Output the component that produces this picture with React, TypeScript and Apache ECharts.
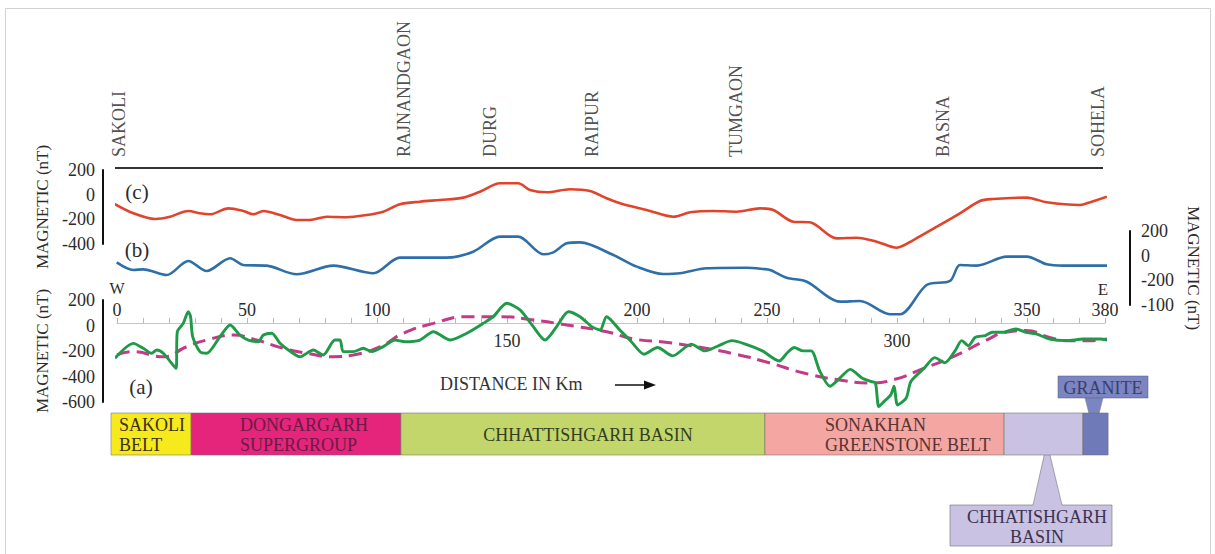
import React, { useEffect, useRef } from 'react';
import * as echarts from 'echarts';

// ---------------- DATA ----------------
const TOWNS = ['SAKOLI', 'RAJNANDGAON', 'DURG', 'RAIPUR', 'TUMGAON', 'BASNA', 'SOHELA'];
const TOWN_KM = [0.6, 110.4, 143.5, 182.7, 238, 317.7, 377.3];

// (c) upper profile, nT vs km
const PROFILE_C: [number, number][] = [
  [-1.4, -70], [6.3, -151], [14.6, -197], [20.4, -179], [27.4, -132], [31.9, -151], [35.8, -159],
  [42.8, -111], [48.6, -132], [52.4, -159], [56.3, -132], [62.7, -165], [69.1, -205], [74.2, -205],
  [80.7, -179], [88.3, -183], [96, -165], [102.4, -138], [108.8, -78], [116.5, -57], [124.2, -43],
  [133.2, -24], [139.6, 24], [147.3, 92], [154.3, 92], [158.8, 38], [165.3, 19], [174.2, 44],
  [181.9, 30], [188.3, -29], [194.7, -78], [203.7, -124], [214, -179], [220.4, -143], [229.3, -132],
  [238.3, -138], [247.3, -111], [252.4, -124], [260.1, -219], [266.5, -224], [276.8, -354],
  [284.5, -349], [292.2, -381], [299.9, -430], [306.3, -368], [315.3, -260], [324.2, -151],
  [331.9, -51], [337, -35], [349.9, -24], [357.6, -62], [370.3, -84], [373, -70], [380.7, -16],
];

// (b) middle profile, nT vs km
const PROFILE_B: [number, number][] = [
  [-0.1, -54], [6.3, -116], [10.1, -111], [19.1, -157], [27.4, -43], [34.5, -124], [43.5, -21],
  [48.6, -76], [57.6, -81], [69.1, -151], [83.2, -81], [98.6, -143], [108.8, -16], [126.8, -16],
  [137, 32], [147.3, 154], [154.3, 154], [164, 11], [167.8, 27], [173, 100], [178.1, 108],
  [190.9, 5], [199.9, -89], [210.1, -149], [216.5, -143], [226.8, -102], [242.2, -98],
  [248.6, -108], [251.2, -116], [257.6, -179], [265.3, -211], [278.1, -373], [285.8, -368],
  [297.3, -475], [301.2, -475], [311.4, -238], [320.4, -205], [324.2, -76], [330.7, -81],
  [342.2, -8], [349.9, -8], [357.6, -70], [364, -81], [381.9, -81],
];

// (a) observed profile, nT vs km
const PROFILE_A: [number, number][] = [
  [-0.8, -257], [6.3, -140], [10.1, -179], [13.3, -218], [15.3, -192], [17.8, -218], [22.7, -336],
  [23.2, -49], [25.5, 17], [27.4, 108], [28.3, 69], [29.1, -88], [31.9, -205], [34.5, -218],
  [39.6, -88], [43.5, 4], [47.3, -75], [50.5, -114], [54.3, -127], [56.3, -75], [59.5, -61],
  [62.7, -140], [65.9, -192], [70.4, -245], [75.5, -192], [79.3, -231], [83.8, -114], [85.8, -114],
  [87, -205], [90.9, -205], [94.7, -179], [98, -205], [102.4, -166], [106.9, -114], [110.8, -127],
  [116.5, -114], [121.7, -49], [128.1, -114], [134.5, -61], [140.9, 17], [144.7, 69], [149.9, 174],
  [155, 122], [160.1, -9], [164.6, -114], [169.1, -9], [173.6, 108], [178.1, 69], [182.6, -9],
  [185.8, -35], [188.3, 69], [193.6, -40], [197.5, -119], [202.7, -225], [207.9, -173],
  [213.7, -238], [220.9, -146], [226.1, -199], [231.3, -159], [236.5, -119], [241.7, -146],
  [248.2, -199], [254.7, -278], [257.9, -212], [260.5, -173], [263.8, -199], [267, -199],
  [270.3, -358], [274.2, -477], [278.1, -411], [282, -344], [286.5, -411], [289.8, -438],
  [291.7, -451], [293, -636], [295, -597], [297.6, -544], [298.9, -477], [300.2, -623],
  [303.5, -570], [305.4, -438], [310.6, -332], [314.5, -252], [318.4, -292], [322.3, -199],
  [324.9, -119], [327.5, -159], [330.1, -93], [334, -79], [336.6, -53], [340.5, -53], [345.7, -27],
  [349.6, -53], [353.5, -66], [358.7, -106], [365.2, -119], [371.7, -106], [378.2, -106],
  [384.7, -133],
];

// (a) regional trend (dashed)
const TREND_A: [number, number][] = [
  [0, -231], [6.3, -205], [17.8, -245], [26.8, -166], [34.5, -114], [44.7, -75], [53.7, -114],
  [64, -179], [73, -218], [83.2, -245], [90.9, -231], [101.2, -166], [110.1, -61], [121.7, 17],
  [134.5, 69], [147.3, 69], [160.1, 43], [173, 4], [188.3, -49], [198.8, -106], [211.8, -133],
  [224.8, -173], [237.8, -225], [250.8, -292], [263.8, -371], [276.8, -424], [289.8, -451],
  [298.9, -424], [309.3, -344], [322.3, -238], [334, -119], [341.8, -53], [349.6, -40],
  [358.7, -93], [365.2, -119], [374.3, -119], [380.8, -106],
];

const BELT_NAMES = ['SAKOLI\nBELT', 'DONGARGARH\nSUPERGROUP', 'CHHATTISHGARH BASIN', 'SONAKHAN\nGREENSTONE BELT', '', ''];
const BELT_FROM = [-2.3, 28.5, 109.2, 249.2, 341.2, 371.5];
const BELT_TO = [28.5, 109.2, 249.2, 341.2, 371.5, 381.2];

const DIST_LABELS_ABOVE = [0, 50, 100, 200, 250, 350, 380];
const DIST_LABELS_BELOW = [150, 300];
const RIGHT_TICK_VALUES = [-400, -200, 0, 200];
const RIGHT_TICK_LABELS = ['-100', '-200', '0', '200'];

// ---------------- STYLE ----------------
const SERIF = '"Liberation Serif", "Times New Roman", serif';
const TXT = '#2b2b2b';
const BELT_STYLE = [
  { fill: '#f6ea1c', color: '#3d3216', align: 'left', dx: 8 },
  { fill: '#e5247c', color: '#6a1c45', align: 'left', dx: 49 },
  { fill: '#c2d66c', color: '#353f1f', align: 'center', dx: 5 },
  { fill: '#f4a6a2', color: '#583434', align: 'left', dx: 60 },
  { fill: '#cac2e2', color: '#333', align: 'left', dx: 0 },
  { fill: '#6f7bb8', color: '#333', align: 'left', dx: 0 },
];

const hiddenX = (gridIndex: number) => ({
  type: 'value', gridIndex, min: 0, max: 380, show: false,
});
const hiddenY = (gridIndex: number) => ({
  type: 'value', gridIndex, min: 0, max: 1, show: false,
});

const leftY = (gridIndex: number, min: number, max: number, gap: number) => ({
  type: 'value', gridIndex, min, max, interval: 200, position: 'left', offset: 14,
  axisLine: { show: true, onZero: false, lineStyle: { color: '#111', width: 2 } },
  axisTick: { show: false },
  splitLine: { show: false },
  axisLabel: { color: TXT, fontSize: 18, fontFamily: SERIF, margin: 8 },
  name: 'MAGNETIC (nT)', nameLocation: 'middle', nameRotate: 90, nameGap: gap,
  nameTextStyle: { color: TXT, fontSize: 17, fontFamily: SERIF },
});

const option: any = {
  animation: false,
  backgroundColor: '#ffffff',
  grid: [
    { left: 117, right: 110, top: 170, height: 74 },   // 0: (c)
    { left: 117, right: 110, top: 231, height: 74 },   // 1: (b)
    { left: 117, right: 110, top: 300, height: 102 },  // 2: (a)
    { left: 117, right: 110, top: 413, height: 42 },   // 3: belts
    { left: 117, right: 110, top: 300, height: 23 },   // 4: distance axis (line + labels below)
    { left: 117, right: 110, top: 323, height: 20 },   // 5: distance axis labels above
  ],
  xAxis: [
    hiddenX(0),
    hiddenX(1),
    hiddenX(2),
    hiddenX(3),
    {
      type: 'value', gridIndex: 4, min: 0, max: 380, interval: 10, position: 'bottom',
      axisLine: { show: true, onZero: false, lineStyle: { color: '#c6c6c6', width: 1 } },
      axisTick: { show: true, inside: true, length: 5, lineStyle: { color: '#b8b8b8' } },
      splitLine: { show: false },
      axisLabel: {
        color: TXT, fontSize: 18, fontFamily: SERIF, margin: 9,
        formatter: (v: number) => (DIST_LABELS_BELOW.includes(v) ? String(v) : ''),
      },
    },
    {
      type: 'value', gridIndex: 5, min: 0, max: 380, interval: 10, position: 'top',
      axisLine: { show: false, onZero: false },
      axisTick: { show: false },
      splitLine: { show: false },
      axisLabel: {
        color: TXT, fontSize: 18, fontFamily: SERIF, margin: 4,
        formatter: (v: number) => (DIST_LABELS_ABOVE.includes(v) ? String(v) : ''),
      },
    },
  ],
  yAxis: [
    leftY(0, -400, 200, 47),
    {
      type: 'value', gridIndex: 1, min: -400, max: 200, interval: 200, position: 'right', offset: 25,
      axisLine: { show: true, onZero: false, lineStyle: { color: '#111', width: 2 } },
      axisTick: { show: false },
      splitLine: { show: false },
      axisLabel: {
        color: TXT, fontSize: 18, fontFamily: SERIF, margin: 11,
        formatter: (v: number) => RIGHT_TICK_LABELS[RIGHT_TICK_VALUES.indexOf(v)] ?? String(v),
      },
      name: 'MAGNETIC (nT)', nameLocation: 'middle', nameRotate: -90, nameGap: 53,
      nameTextStyle: { color: TXT, fontSize: 17, fontFamily: SERIF },
    },
    leftY(2, -600, 200, 47),
    hiddenY(3),
    hiddenY(4),
    hiddenY(5),
  ],
  series: [
    {
      type: 'line', xAxisIndex: 0, yAxisIndex: 0, data: PROFILE_C, showSymbol: false, clip: false,
      smooth: 0.3, lineStyle: { color: '#e0452c', width: 2.6 }, silent: true,
    },
    {
      type: 'line', xAxisIndex: 1, yAxisIndex: 1, data: PROFILE_B, showSymbol: false, clip: false,
      smooth: 0.3, lineStyle: { color: '#2f6fa9', width: 2.6 }, silent: true,
    },
    {
      type: 'line', xAxisIndex: 2, yAxisIndex: 2, data: TREND_A, showSymbol: false, clip: false,
      smooth: 0.5, lineStyle: { color: '#c43a87', width: 3, type: [13, 7] }, silent: true,
    },
    {
      type: 'line', xAxisIndex: 2, yAxisIndex: 2, data: PROFILE_A, showSymbol: false, clip: false,
      smooth: 0.25, lineStyle: { color: '#1e9a48', width: 2.9 }, silent: true,
    },
    {
      type: 'scatter', xAxisIndex: 0, yAxisIndex: 0, clip: false, symbolSize: 0, silent: true,
      data: TOWNS.map((t, i) => ({ name: t, value: [TOWN_KM[i], 305] })),
      label: {
        show: true, formatter: '{b}', rotate: 90, position: 'inside', align: 'left',
        verticalAlign: 'middle', color: '#222', fontSize: 18, fontFamily: SERIF,
      },
    },
    {
      type: 'custom', xAxisIndex: 3, yAxisIndex: 3, silent: true,
      data: BELT_FROM.map((f, i) => [f, BELT_TO[i], i]),
      encode: { x: [0, 1] },
      renderItem: (_p: any, api: any) => {
        const i = api.value(2);
        const a = api.coord([api.value(0), 1]);
        const b = api.coord([api.value(1), 0]);
        const x = a[0], y = a[1], w = b[0] - a[0], h = b[1] - a[1];
        const st = BELT_STYLE[i];
        const children: any[] = [
          { type: 'rect', shape: { x, y, width: w, height: h }, style: { fill: st.fill, stroke: 'rgba(110,110,110,0.55)', lineWidth: 1 } },
        ];
        if (BELT_NAMES[i]) {
          children.push({
            type: 'text',
            style: {
              text: BELT_NAMES[i],
              x: st.align === 'center' ? x + w / 2 + st.dx : x + st.dx,
              y: y + h / 2 + 1,
              align: st.align, verticalAlign: 'middle',
              fill: st.color, font: `18px ${SERIF}`, lineHeight: 20,
            },
          });
        }
        return { type: 'group', children };
      },
    },
  ],
  graphic: [
    { type: 'rect', shape: { x: 5.5, y: 8.5, width: 1205, height: 560 }, style: { fill: 'none', stroke: '#d2d2d2', lineWidth: 1 }, silent: true },
    { type: 'line', shape: { x1: 115, y1: 168, x2: 1103, y2: 168 }, style: { stroke: '#333', lineWidth: 2 }, silent: true },
    { type: 'text', style: { text: '(c)', x: 137, y: 192, align: 'center', verticalAlign: 'middle', font: `21px ${SERIF}`, fill: TXT } },
    { type: 'text', style: { text: '(b)', x: 137, y: 250, align: 'center', verticalAlign: 'middle', font: `21px ${SERIF}`, fill: TXT } },
    { type: 'text', style: { text: '(a)', x: 141, y: 387, align: 'center', verticalAlign: 'middle', font: `21px ${SERIF}`, fill: TXT } },
    { type: 'text', style: { text: 'W', x: 117, y: 288, align: 'center', verticalAlign: 'middle', font: `16px ${SERIF}`, fill: TXT } },
    { type: 'text', style: { text: 'E', x: 1103, y: 289, align: 'center', verticalAlign: 'middle', font: `17px ${SERIF}`, fill: TXT } },
    { type: 'text', style: { text: 'DISTANCE IN Km', x: 440, y: 384, align: 'left', verticalAlign: 'middle', font: `18px ${SERIF}`, fill: '#333' } },
    { type: 'line', shape: { x1: 615, y1: 385, x2: 647, y2: 385 }, style: { stroke: '#111', lineWidth: 1.5 } },
    { type: 'polygon', shape: { points: [[644, 380.5], [656, 385], [644, 389.5]] }, style: { fill: '#111' } },
    // GRANITE callout
    { type: 'polygon', shape: { points: [[1085, 397], [1103, 397], [1094, 433]] }, style: { fill: '#7a85c1' } },
    { type: 'polyline', shape: { points: [[1085, 398], [1094, 433], [1103, 398]] }, style: { stroke: 'rgba(70,70,110,0.45)', lineWidth: 1, fill: 'none' } },
    { type: 'rect', shape: { x: 1058, y: 376, width: 90, height: 22 }, style: { fill: '#7a85c1', stroke: 'rgba(90,90,120,0.5)', lineWidth: 1 } },
    { type: 'text', style: { text: 'GRANITE', x: 1103, y: 388, align: 'center', verticalAlign: 'middle', font: `18px ${SERIF}`, fill: '#3a3f6a' } },
    // CHHATISHGARH BASIN callout
    { type: 'rect', shape: { x: 950, y: 505, width: 162, height: 41 }, style: { fill: '#cac2e2', stroke: 'rgba(110,110,120,0.6)', lineWidth: 1 } },
    { type: 'polygon', shape: { points: [[1033, 506], [1047, 443], [1062, 506]] }, style: { fill: '#cac2e2' } },
    { type: 'polyline', shape: { points: [[1033, 505], [1047, 443], [1062, 505]] }, style: { stroke: 'rgba(110,110,120,0.6)', lineWidth: 1, fill: 'none' } },
    { type: 'text', style: { text: 'CHHATISHGARH\nBASIN', x: 1037, y: 527, align: 'center', verticalAlign: 'middle', font: `18px ${SERIF}`, fill: '#3b3352', lineHeight: 20 } },
  ],
};

export default function App() {
  const ref = useRef<HTMLDivElement>(null);
  useEffect(() => {
    if (!ref.current) return;
    const chart = echarts.init(ref.current, null, { renderer: 'svg' });
    chart.setOption(option);
    return () => chart.dispose();
  }, []);
  return (
    <div
      ref={ref}
      style={{ position: 'absolute', left: 0, top: 0, width: 1215, height: 554, background: '#fff' }}
    />
  );
}
